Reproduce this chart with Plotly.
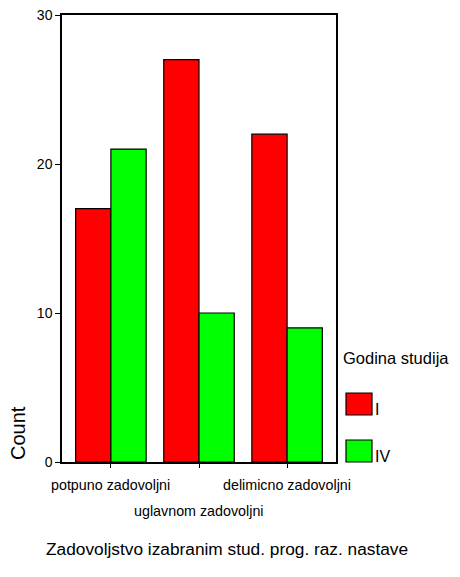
import plotly.graph_objects as go

categories = ["potpuno zadovoljni", "uglavnom zadovoljni", "delimicno zadovoljni"]
series_names = ["I", "IV"]
values_I = [17, 27, 22]
values_IV = [21, 10, 9]
colors = ["#ff0000", "#00ff00"]

# The page body has an 8px margin on every side; size the figure so the page
# does not overflow the 460x577 window.
OFF = 8
WIN_W, WIN_H = 460, 577
FIG_RIGHT, FIG_BOTTOM = WIN_W - OFF, WIN_H - OFF
W, H = FIG_RIGHT - OFF, FIG_BOTTOM - OFF
# plot area in window pixels: x 62..336, y 15..462
L, R, T, B = 62 - OFF, FIG_RIGHT - 336, 15 - OFF, FIG_BOTTOM - 462
pw, ph = W - L - R, H - T - B

def px2paper_x(px):
    return (px - OFF - L) / pw

def px2paper_y(py):
    return (H - B - (py - OFF)) / ph

FONT = "Liberation Sans, Arial, sans-serif"

fig = go.Figure()
for name, vals, col in zip(series_names, [values_I, values_IV], colors):
    fig.add_trace(go.Bar(
        x=list(range(len(categories))), y=vals, name=name,
        marker=dict(color=col, line=dict(color="black", width=1.2)),
        showlegend=False,
    ))

fig.update_layout(
    width=W, height=H,
    margin=dict(l=L, r=R, t=T, b=B, autoexpand=False),
    paper_bgcolor="white", plot_bgcolor="white",
    barmode="group", bargap=0.2, bargroupgap=0,
    font=dict(family=FONT, color="black", size=12),
)
fig.update_xaxes(
    range=[-0.555, 2.555], tickvals=list(range(len(categories))),
    showticklabels=False, automargin=False,
    showgrid=False, zeroline=False, showline=True, linecolor="black", linewidth=1.5,
    mirror=True, ticks="outside", ticklen=4, tickcolor="black",
)
fig.update_yaxes(
    range=[0, 30], tickvals=[0, 10, 20, 30], automargin=False,
    ticklabeloverflow="allow",
    showgrid=False, zeroline=False, showline=True, linecolor="black", linewidth=1.5,
    mirror=True, ticks="outside", ticklen=5, tickcolor="black",
    tickfont=dict(size=14, family=FONT),
)

# Category labels (staggered, as in the reference)
label_y = [485, 511, 485]
for i, (cat, ly) in enumerate(zip(categories, label_y)):
    fig.add_annotation(text=cat, xref="x", yref="paper", x=i, y=px2paper_y(ly),
                       showarrow=False, font=dict(size=14.3, family=FONT),
                       xanchor="center", yanchor="middle")

# Axis titles
fig.add_annotation(text="Count", xref="paper", yref="paper",
                   x=px2paper_x(18), y=px2paper_y(433), textangle=-90,
                   showarrow=False, font=dict(size=20, family=FONT),
                   xanchor="center", yanchor="middle")
fig.add_annotation(text="Zadovoljstvo izabranim stud. prog. raz. nastave",
                   xref="paper", yref="paper", x=px2paper_x(227), y=px2paper_y(549),
                   showarrow=False, font=dict(size=17.3, family=FONT),
                   xanchor="center", yanchor="middle")

# Manual legend
fig.add_annotation(text="Godina studija", xref="paper", yref="paper",
                   x=px2paper_x(341), y=px2paper_y(358), showarrow=False,
                   font=dict(size=16.5, family=FONT), xanchor="left", yanchor="middle")
box_tops = [393, 440]
for name, col, top in zip(series_names, colors, box_tops):
    fig.add_shape(type="rect", xref="paper", yref="paper",
                  x0=px2paper_x(346), x1=px2paper_x(372),
                  y0=px2paper_y(top + 22), y1=px2paper_y(top),
                  fillcolor=col, line=dict(color="black", width=1.2))
    fig.add_annotation(text=name, xref="paper", yref="paper",
                       x=px2paper_x(373), y=px2paper_y(top + 16), showarrow=False,
                       font=dict(size=16, family=FONT), xanchor="left", yanchor="middle")

fig.write_html("out.html")
